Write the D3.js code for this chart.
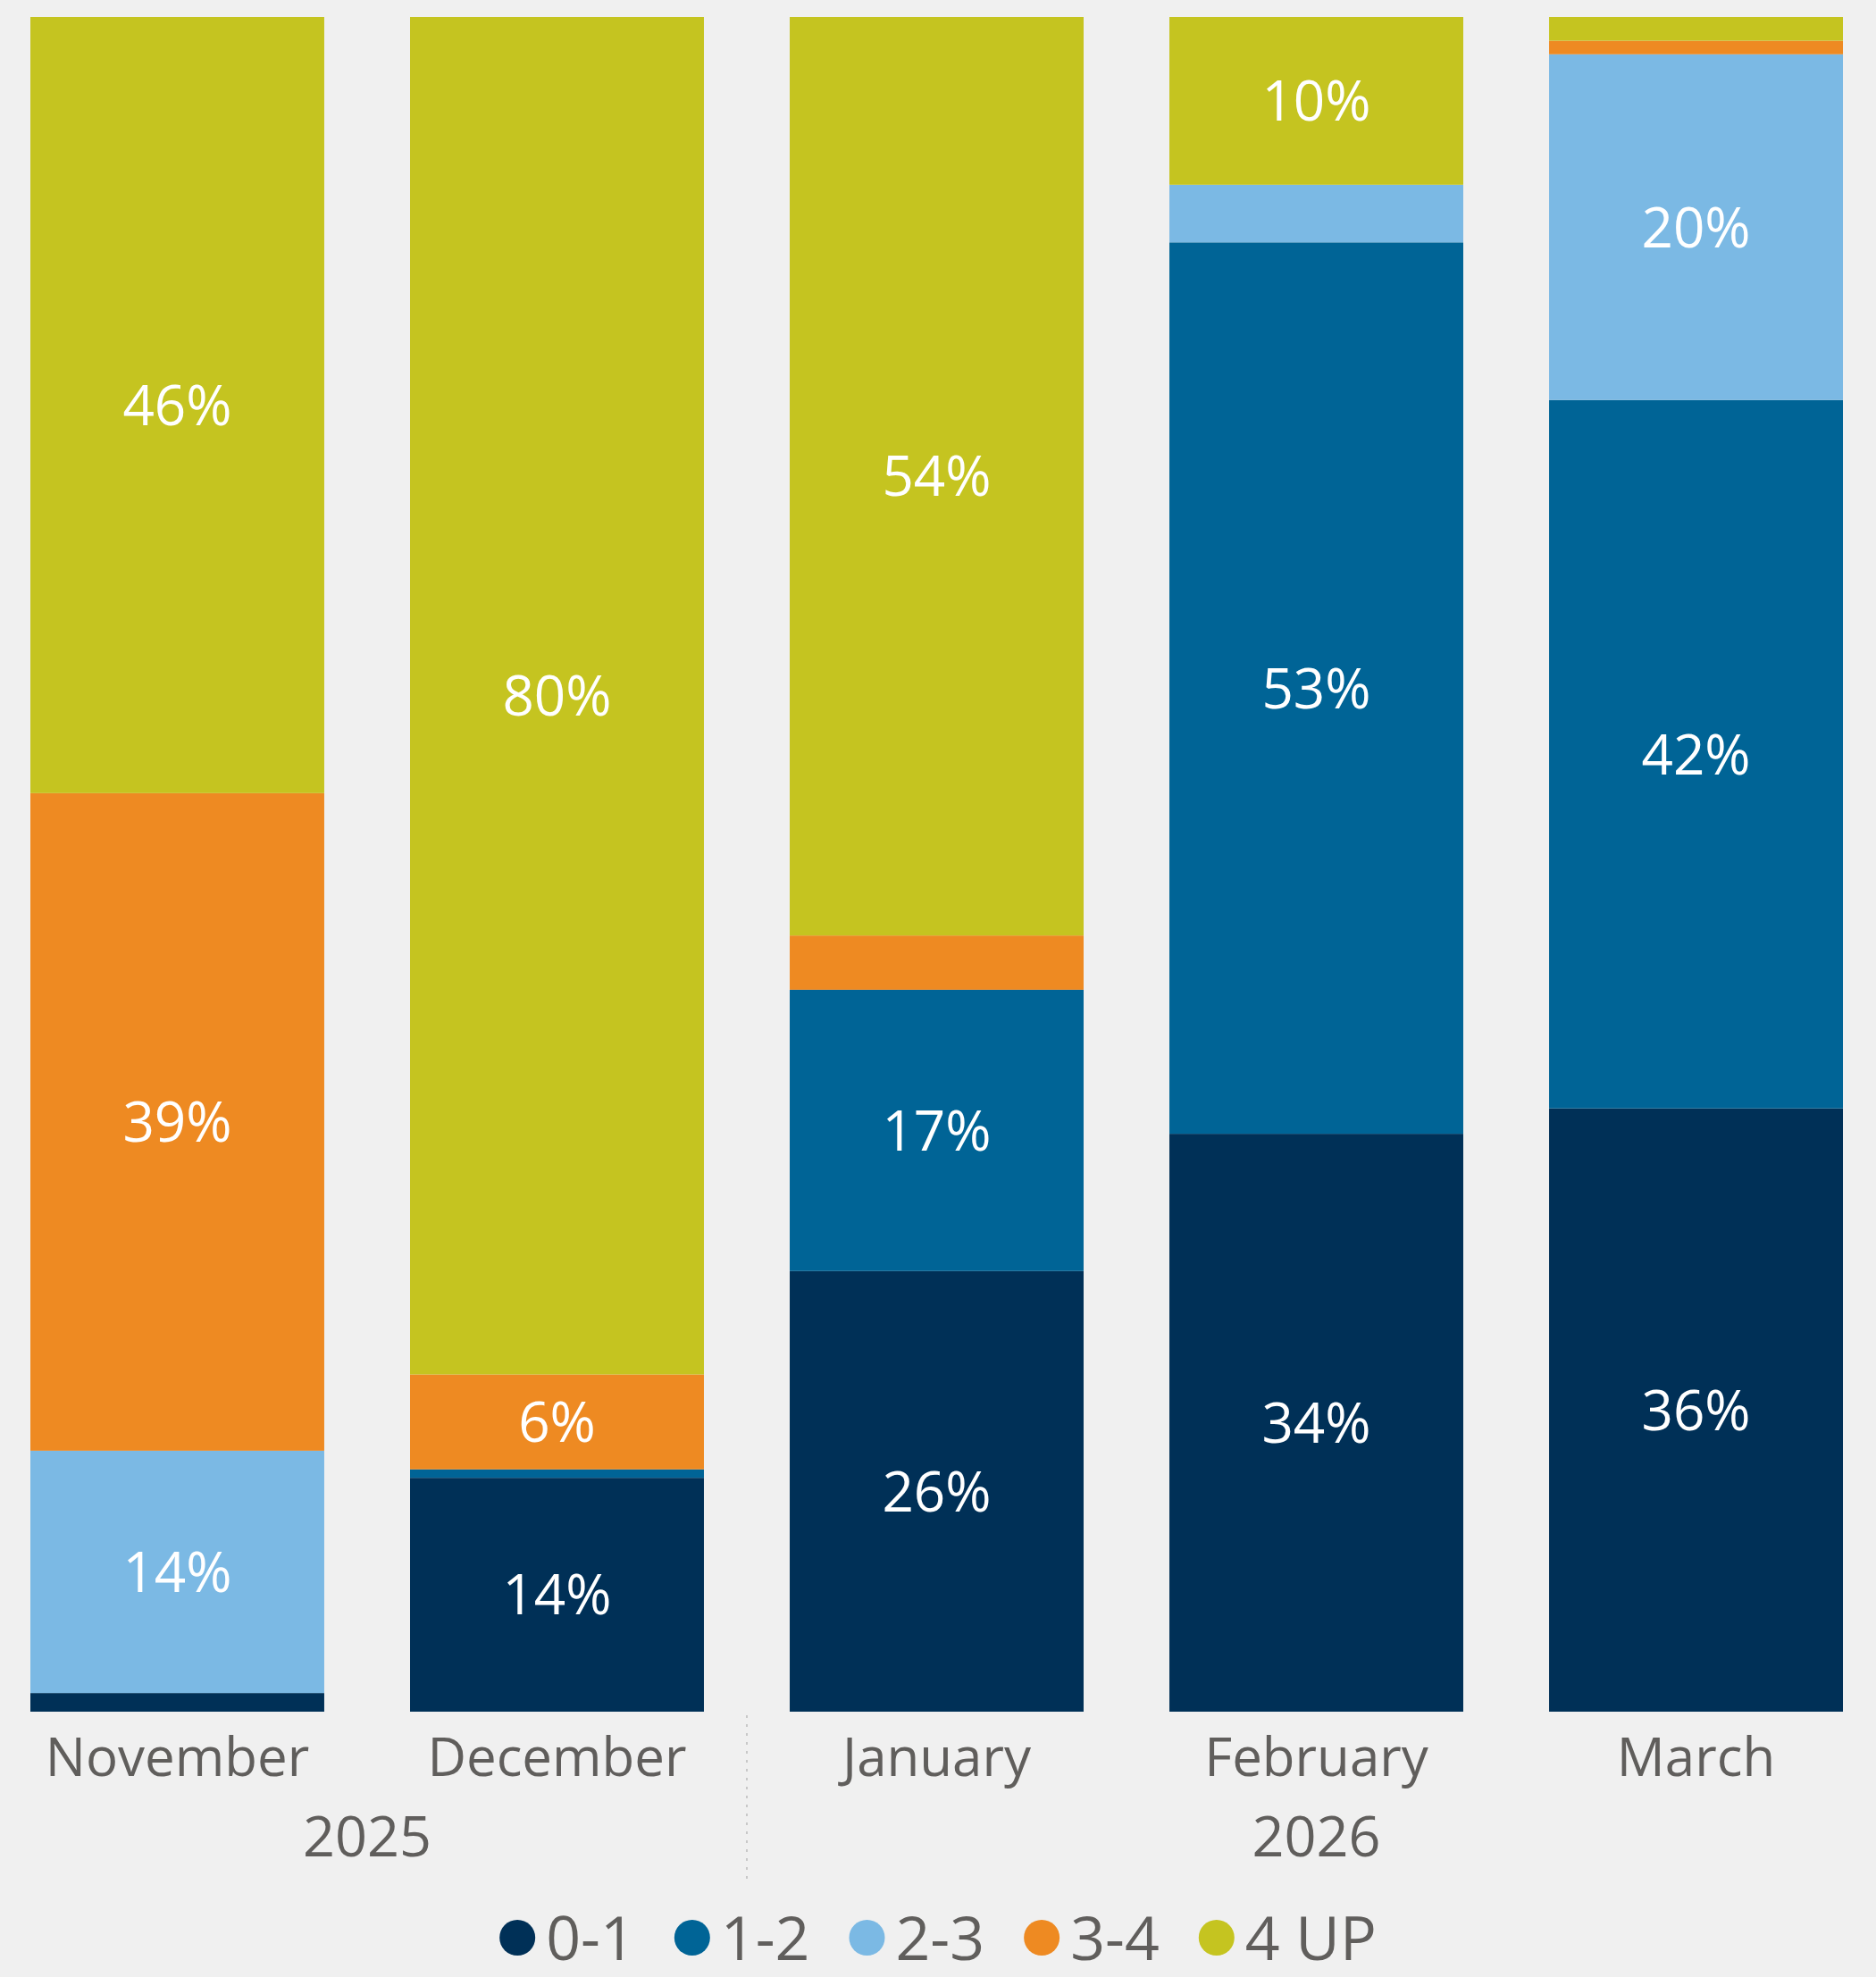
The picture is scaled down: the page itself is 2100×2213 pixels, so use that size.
<!DOCTYPE html>
<html>
<head>
<meta charset="utf-8">
<script src="https://cdn.jsdelivr.net/npm/d3@7"></script>
<style>
  html, body { margin: 0; padding: 0; background: #f0f0f0; }
  text { font-family: 'Open Sans', 'Noto Sans', sans-serif; }
</style>
</head>
<body>
<div id="chart"></div>
<script>
// months on the x axis and the year each belongs to
const months = ['November', 'December', 'January', 'February', 'March'];
const years = ['2025', '2025', '2026', '2026', '2026'];
const seriesNames = ['0-1', '1-2', '2-3', '3-4', '4 UP'];
const seriesColors = ['#003057', '#006496', '#7bb9e4', '#ee8a22', '#c5c420'];

// share of each band per month, in percent
const s01 = [1.1, 13.8, 26.0, 34.1, 35.6];
const s12 = [0.0, 0.5, 16.6, 52.6, 41.8];
const s23 = [14.3, 0.0, 0.0, 3.4, 20.4];
const s34 = [38.8, 5.6, 3.2, 0.0, 0.8];
const s4up = [45.8, 80.1, 54.2, 9.9, 1.4];

const width = 2100, height = 2213;
const textColor = '#605e5c';

const table = months.map((m, i) => ({
    month: m,
    '0-1': s01[i], '1-2': s12[i], '2-3': s23[i], '3-4': s34[i], '4 UP': s4up[i]
}));

const stacked = d3.stack().keys(seriesNames)(table);

const x = d3.scaleBand()
    .domain(months)
    .range([34, 2063])
    .paddingInner(0.226)
    .paddingOuter(0);

const y = d3.scaleLinear()
    .domain([0, 100])
    .range([1916, 19]);

const color = d3.scaleOrdinal().domain(seriesNames).range(seriesColors);

const svg = d3.select('#chart')
    .append('svg')
    .attr('width', width)
    .attr('height', height)
    .style('background', '#f0f0f0');

// stacked bars
const layers = svg.selectAll('g.layer')
    .data(stacked)
    .enter().append('g')
    .attr('class', 'layer')
    .attr('fill', d => color(d.key));

layers.selectAll('rect')
    .data(d => d)
    .enter().append('rect')
    .attr('x', d => x(d.data.month))
    .attr('width', x.bandwidth())
    .attr('y', d => y(d[1]))
    .attr('height', d => y(d[0]) - y(d[1]));

// data labels, only where the segment is tall enough
layers.selectAll('text')
    .data(d => d.filter(s => y(s[0]) - y(s[1]) > 80))
    .enter().append('text')
    .attr('x', d => x(d.data.month) + x.bandwidth() / 2)
    .attr('y', d => (y(d[0]) + y(d[1])) / 2)
    .attr('dy', '0.36em')
    .attr('text-anchor', 'middle')
    .attr('fill', '#ffffff')
    .style('font-size', '62px')
    .text(d => Math.round(d[1] - d[0]) + '%');

// month axis labels
svg.append('g')
    .selectAll('text')
    .data(months)
    .enter().append('text')
    .attr('x', d => x(d) + x.bandwidth() / 2)
    .attr('y', 1988)
    .attr('text-anchor', 'middle')
    .attr('fill', textColor)
    .style('font-size', '60px')
    .text(d => d);

// year labels centred under their months
const yearGroups = d3.groups(months.map((m, i) => ({month: m, year: years[i]})), d => d.year);
svg.append('g')
    .selectAll('text')
    .data(yearGroups)
    .enter().append('text')
    .attr('x', d => d3.mean(d[1], v => x(v.month) + x.bandwidth() / 2))
    .attr('y', 2078)
    .attr('text-anchor', 'middle')
    .attr('fill', textColor)
    .style('font-size', '63px')
    .text(d => d[0]);

// dotted divider between the years
const lastOf2025 = months[years.lastIndexOf('2025')];
const firstOf2026 = months[years.indexOf('2026')];
const divX = (x(lastOf2025) + x.bandwidth() + x(firstOf2026)) / 2;
svg.append('line')
    .attr('x1', divX).attr('x2', divX)
    .attr('y1', 1920).attr('y2', 2104)
    .attr('stroke', '#c8c8c8')
    .attr('stroke-width', 2)
    .attr('stroke-dasharray', '3,7');

// legend
const legend = svg.append('g').attr('class', 'legend');
let cursor = 0;
seriesNames.forEach(name => {
    const item = legend.append('g').attr('transform', `translate(${cursor},0)`);
    item.append('circle')
        .attr('cx', 20).attr('cy', -25)
        .attr('r', 20)
        .attr('fill', color(name));
    const t = item.append('text')
        .attr('x', 52)
        .attr('y', 0)
        .attr('fill', textColor)
        .style('font-size', '68px')
        .text(name);
    cursor += 52 + t.node().getComputedTextLength() + 44;
});
const legendWidth = cursor - 44;
legend.attr('transform', `translate(${(width - legendWidth) / 2},2194)`);
</script>
</body>
</html>
